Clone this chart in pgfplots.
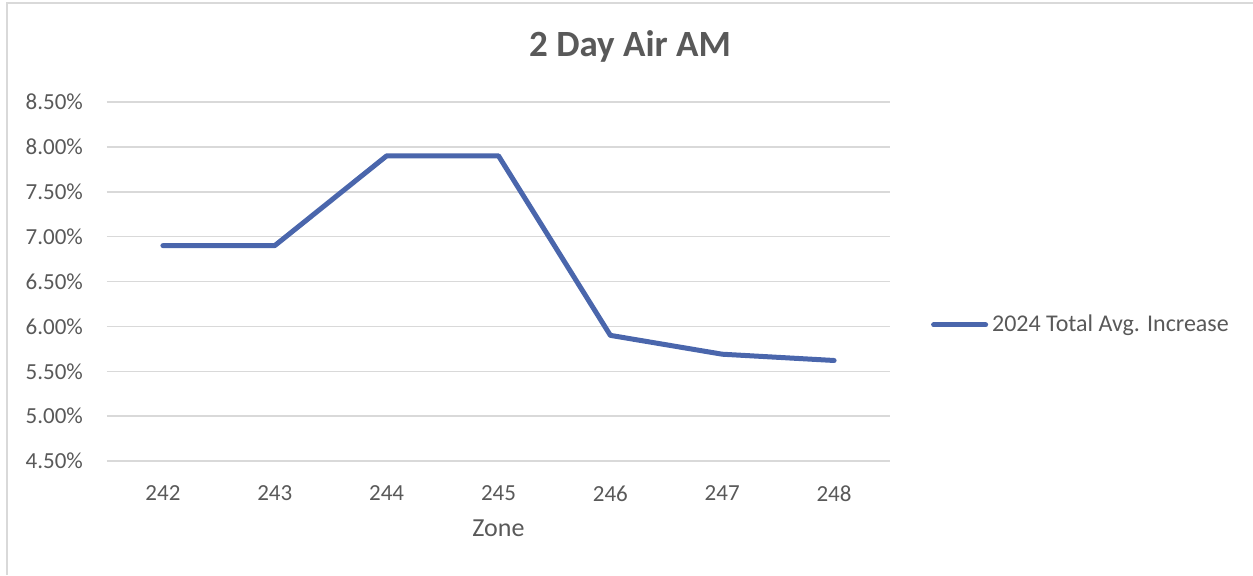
\documentclass[border=0pt]{standalone}
\usepackage{fontspec}
\setmainfont{Carlito}
\usepackage{pgfplots}
\pgfplotsset{compat=1.18}
\definecolor{linecol}{HTML}{4A66AC}
\definecolor{txt}{HTML}{595959}
\definecolor{gridcol}{HTML}{D9D9D9}
\begin{document}
\begin{tikzpicture}
\path[use as bounding box] (0,0) rectangle (626.5pt,287.5pt);
\draw[gridcol, line width=1pt] (3.3pt,0) -- (3.3pt,285.8pt) -- (626.5pt,285.8pt);
\node[text=txt, font=\fontsize{18.5}{22}\selectfont\bfseries] at (315pt,264.5pt) {2 Day Air AM};
\begin{axis}[
  at={(53.5pt,57pt)}, anchor=south west,
  scale only axis, width=391.5pt, height=179.5pt,
  xmin=-0.5, xmax=6.5, ymin=4.5, ymax=8.5,
  xtick={0,...,6}, xticklabels={242,243,244,245,246,247,248},
  ytick={4.5,5,...,8.5},
  yticklabel={\pgfmathprintnumber[fixed,fixed zerofill,precision=2]{\tick}\%},
  /pgf/number format/assume math mode=true,
  ymajorgrids, grid style={draw=gridcol, line width=0.75pt},
  axis x line*=bottom, axis y line*=left,
  x axis line style={draw=gridcol, line width=0.75pt},
  y axis line style={draw=none},
  major tick length=0pt,
  tick label style={text=txt, font=\fontsize{11.5}{13}\selectfont},
  xticklabel style={yshift=-9pt},
  yticklabel style={xshift=-8.5pt},
  xlabel={Zone}, xlabel style={text=txt, font=\fontsize{13}{15}\selectfont, yshift=-2pt},
  legend style={at={(1.052,0.379)}, anchor=west, draw=none, fill=none, font=\fontsize{12}{14}\selectfont, text=txt, inner sep=0pt, legend cell align=left, /tikz/every even column/.append style={column sep=0pt}},
  legend image code/.code={\draw[line width=2.5pt, line cap=round] (0pt,0pt) -- (26pt,0pt);},
]
\addplot[linecol, line width=2.5pt, line cap=round, line join=round] coordinates {
(0,6.90) (1,6.90) (2,7.90) (3,7.90) (4,5.90) (5,5.69) (6,5.62)};
\addlegendentry{2024 Total Avg. Increase}
\end{axis}
\end{tikzpicture}
\end{document}
